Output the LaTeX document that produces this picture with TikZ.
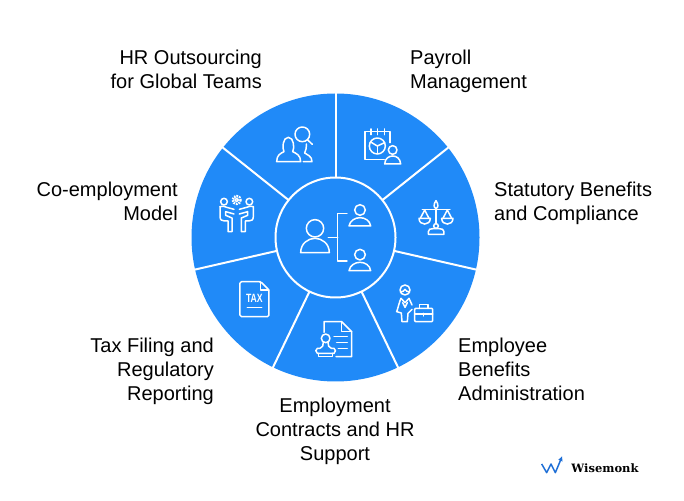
\documentclass[tikz,border=0pt]{standalone}
\usepackage{fontspec}
\setmainfont{Liberation Sans}
\newfontfamily\logofont{DejaVu Serif}
\usetikzlibrary{arrows.meta,positioning}
\definecolor{wheelblue}{HTML}{208AF8}
\definecolor{logoblue}{HTML}{1F6FD6}

\begin{document}
\begin{tikzpicture}[x=1pt,y=1pt,font=\fontsize{20}{24}\selectfont,
  wheel/.style={fill=wheelblue,draw=none},
  hub/.style={fill=wheelblue,draw=white,line width=2pt},
  spoke/.style={draw=white,line width=2pt},
  icon/.style={draw=white,line width=1.5pt,line join=round,line cap=round},
  crop/.style 2 args={shift={(#1,500-#2)},x=.3333pt,y=-.3333pt},
  lab/.style={inner sep=0pt,text=black}
]
 \path[use as bounding box] (0,0) rectangle (684,500);

 % Wheel: seven equal sectors around the hub.
 \begin{scope}[shift={(335.5,262.5)}]
  \fill[wheel] (0,0) circle (144);
  \foreach \i/\aa in {1/90,2/38.57,3/-12.86,4/-64.29,5/-115.71,6/-167.14,7/141.43} {
    \coordinate (in\i) at (\aa:60);
    \coordinate (out\i) at (\aa:145);
    \draw[spoke] (in\i) -- (out\i);
  }
  \draw[hub] (0,0) circle (60);
 \end{scope}

 % Labels.
 \node[lab,anchor=east,align=right] (outsourcing) at (262,431) {HR Outsourcing\\for Global Teams};
 \node[lab,anchor=west,align=left] (payroll) at (410,429) {Payroll\\Management};
 \node[lab,anchor=west,align=left] (statutory) at (494,297) {Statutory Benefits\\and Compliance};
 \node[lab,anchor=west,align=left] (benefits) at (458,131) {Employee\\Benefits\\Administration};
 \node[lab,align=center] (contracts) at (335,69) {Employment\\Contracts and HR\\Support};
 \node[lab,anchor=east,align=right] (tax) at (214,129) {Tax Filing and\\Regulatory\\Reporting};
 \node[lab,anchor=east,align=right] (coemployment) at (178,299) {Co-employment\\Model};

 % Hub icon: one person and two reports.
 \begin{scope}[crop={270}{180}]
  \draw[icon] (135,145) circle (26);
  \draw[icon] (92,218) .. controls (92,190) and (115,175) .. (135,175)
    .. controls (155,175) and (178,190) .. (178,218) -- cycle;
  \draw[icon] (175,172) -- (203,172);
  \draw[icon] (231,100) -- (203,100) -- (203,243) -- (231,243);
  \foreach \yy in {0,134} {
    \draw[icon] (270,90+\yy) circle (16);
    \draw[icon] (237,138+\yy) .. controls (240,122+\yy) and (255,113+\yy) .. (270,113+\yy)
      .. controls (285,113+\yy) and (300,122+\yy) .. (302,138+\yy) -- cycle;
  }
 \end{scope}

 % Outsourcing icon.
 \begin{scope}[crop={270}{120}]
  \draw[icon] (20,125) -- (92,125) .. controls (92,105) and (78,100) .. (68,95)
    .. controls (74,85) and (72,52) .. (55,52)
    .. controls (38,52) and (36,85) .. (42,95)
    .. controls (32,100) and (20,105) .. (20,125) -- cycle;
  \draw[icon] (97,43) circle (22);
  \draw[icon] (113,60) -- (127,73);
  \draw[icon] (100,125) -- (126,125) .. controls (126,108) and (112,105) .. (104,99)
    .. controls (108,92) and (109,84) .. (109,72);
 \end{scope}

 % Payroll icon.
 \begin{scope}[crop={335}{90}]
  \draw[icon] (148,208) -- (90,208) -- (90,125) -- (165,125) -- (165,158);
  \foreach \xx in {108,128,148}
    \draw[icon] (\xx,117) -- (\xx,134);
  \draw[icon] (127,168) circle (24);
  \draw[icon] (107,156) -- (127,168) -- (149,158);
  \draw[icon] (127,168) -- (127,191);
  \draw[icon] (173,180) circle (13);
  \draw[icon] (149,222) .. controls (150,205) and (162,198) .. (173,198)
    .. controls (184,198) and (196,205) .. (197,222) -- cycle;
 \end{scope}

 % Scales icon.
 \begin{scope}[crop={335}{90}]
  \draw[icon] (303,332) .. controls (295,342) and (296,355) .. (303,355)
    .. controls (310,355) and (311,342) .. (303,332) -- cycle;
  \draw[icon] (262,359) -- (345,359);
  \draw[icon] (303,355) -- (303,400);
  \foreach \xx in {269,337} {
    \draw[icon] (\xx-17,385) -- (\xx+17,385) .. controls (\xx+17,408) and (\xx-17,408) .. (\xx-17,385) -- cycle;
    \draw[icon] (\xx-13,385) -- (\xx,360) -- (\xx+13,385);
  }
  \draw[icon] (303,408) circle (7);
  \draw[icon] (280,433) -- (327,433) -- (327,425) .. controls (327,418) and (320,416) .. (312,416)
    -- (294,416) .. controls (286,416) and (280,418) .. (280,425) -- cycle;
 \end{scope}

 % Employee icon.
 \begin{scope}[crop={390}{280}]
  \draw[icon] (45,30) circle (15);
  \draw[icon] (31,36) .. controls (38,36) and (42,33) .. (45,28) .. controls (48,33) and (52,36) .. (59,36);
  \draw[icon] (33,55) -- (45,68) -- (57,55);
  \draw[icon] (33,55) .. controls (28,65) and (24,85) .. (20,95) -- (34,99) -- (36,125) -- (52,125)
    -- (54,100) -- (66,88);
  \draw[icon] (57,55) -- (66,75);
  \draw[icon] (38,68) -- (45,82) -- (52,68);
  \draw[icon,rounded corners=1pt] (74,85) rectangle (128,125);
  \draw[icon] (88,85) -- (88,73) -- (114,73) -- (114,85);
  \draw[icon] (74,102) -- (128,102);
  \draw[icon] (101,100) -- (101,108);
 \end{scope}

 % Stamp icon.
 \begin{scope}[crop={310}{315}]
  \draw[icon] (42,52) -- (42,20) -- (95,20) -- (125,50) -- (125,125) -- (78,125);
  \draw[icon] (95,20) -- (95,50) -- (125,50);
  \draw[icon] (72,65) -- (112,65);
  \draw[icon] (80,82) -- (112,82);
  \draw[icon] (85,100) -- (112,100);
  \draw[icon] (47,70) circle (13);
  \draw[icon] (40,82) .. controls (40,92) and (38,97) .. (30,100) -- (22,100)
    .. controls (16,102) and (16,112) .. (22,115) -- (72,115)
    .. controls (78,112) and (78,102) .. (72,100) -- (64,100)
    .. controls (56,97) and (54,92) .. (54,82);
  \draw[icon] (26,115) -- (26,125) -- (68,125) -- (68,115);
 \end{scope}

 % Tax icon.
 \begin{scope}[crop={190}{235}]
  \draw[icon,rounded corners=1.5pt] (212,140) -- (150,140) -- (150,245) -- (237,245) -- (237,165) -- cycle;
  \draw[icon] (212,140) -- (212,165) -- (237,165);
  \node[text=white,font=\bfseries\fontsize{12}{12}\selectfont,inner sep=0pt,xscale=.72] (taxmark) at (193,189) {TAX};
  \draw[icon] (172,218) -- (215,218);
 \end{scope}

 % Co-employment icon.
 \begin{scope}[crop={215}{190}]
  \draw[icon,dash pattern=on 1.6pt off 1pt,line width=2.4pt,line cap=butt] (65,30) circle (12);
  \draw[icon] (65,30) circle (5);
  \foreach \xx/\ss in {27/1,103/-1} {
    \draw[icon] (\xx,35) circle (10);
    \draw[icon] (\xx-12*\ss,50) -- (\xx-12*\ss,80) .. controls (\xx-12*\ss,90) and (\xx-6*\ss,93) .. (\xx+2*\ss,93)
      -- (\xx+12*\ss,93) -- (\xx+12*\ss,125) -- (\xx+24*\ss,125) -- (\xx+24*\ss,84) -- (\xx+5*\ss,76)
      -- (\xx+5*\ss,65) -- (\xx+30*\ss,72);
    \draw[icon] (\xx-12*\ss,50) .. controls (\xx-6*\ss,48) and (\xx+2*\ss,48) .. (\xx+8*\ss,52) -- (\xx+30*\ss,58);
  }
 \end{scope}

 % Logo.
 \begin{scope}[crop={530}{450}]
  \draw[draw=logoblue,line width=1.5pt,line join=round,-{Latex[length=5pt,width=5pt]}]
    (35,42) -- (50,68) -- (63,42) -- (76,68) -- (97,18);
 \end{scope}
 \node[inner sep=0pt,font=\logofont\bfseries\fontsize{11.5}{12}\selectfont,text=black] (logotext) at (605,32) {Wisemonk};
\end{tikzpicture}
\end{document}
